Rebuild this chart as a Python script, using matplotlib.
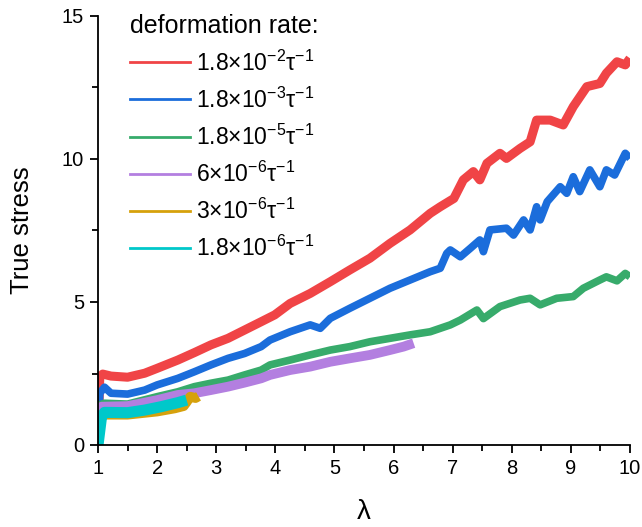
import matplotlib
matplotlib.use("Agg")
import matplotlib.pyplot as plt
from matplotlib.lines import Line2D
from matplotlib.ticker import MultipleLocator

plt.rcParams["font.family"] = ["Liberation Sans", "DejaVu Sans"]
plt.rcParams["mathtext.fontset"] = "custom"
plt.rcParams["mathtext.rm"] = "Liberation Sans"
plt.rcParams["mathtext.it"] = "Liberation Sans:italic"

# ------------------------- DATA --------------------- #
lam_red = [1.0, 1.03, 1.08, 1.22, 1.5, 1.79, 2.0, 2.35, 2.63, 2.91, 3.2, 3.48,
           3.76, 3.99, 4.25, 4.59, 4.93, 5.26, 5.6, 5.94, 6.28, 6.62, 6.79,
           7.02, 7.18, 7.35, 7.46, 7.58, 7.8, 7.91, 8.14, 8.31, 8.42, 8.65,
           8.87, 9.04, 9.27, 9.49, 9.6, 9.78, 9.92, 10.0]
s_red = [0.0, 2.39, 2.48, 2.41, 2.37, 2.51, 2.68, 2.97, 3.23, 3.5, 3.73, 4.02,
         4.31, 4.55, 4.95, 5.3, 5.71, 6.12, 6.53, 7.05, 7.52, 8.1, 8.33,
         8.62, 9.27, 9.56, 9.27, 9.85, 10.2, 10.02, 10.37, 10.6, 11.36, 11.36,
         11.19, 11.83, 12.53, 12.64, 13.0, 13.4, 13.29, 13.52]

lam_blue = [1.0, 1.03, 1.11, 1.22, 1.5, 1.79, 2.0, 2.35, 2.63, 2.91, 3.2, 3.48,
            3.76, 3.91, 4.25, 4.59, 4.76, 4.93, 5.26, 5.6, 5.94, 6.28, 6.62,
            6.79, 6.9, 6.96, 7.13, 7.3, 7.46, 7.52, 7.63, 7.91, 8.03, 8.2,
            8.31, 8.42, 8.48, 8.6, 8.82, 8.93, 9.04, 9.15, 9.32, 9.49, 9.6,
            9.74, 9.92, 10.0]
s_blue = [0.0, 1.81, 2.02, 1.81, 1.78, 1.92, 2.1, 2.33, 2.56, 2.8, 3.03, 3.2,
          3.44, 3.67, 3.96, 4.2, 4.08, 4.43, 4.78, 5.13, 5.48, 5.77, 6.06,
          6.18, 6.7, 6.82, 6.58, 6.88, 7.17, 6.76, 7.52, 7.58, 7.34, 7.87,
          7.52, 8.33, 7.87, 8.51, 9.03, 8.8, 9.38, 8.86, 9.62, 9.03, 9.62,
          9.44, 10.2, 10.02]

lam_green = [1.0, 1.03, 1.11, 1.5, 2.0, 2.35, 2.63, 2.91, 3.2, 3.48, 3.76, 3.91,
             4.25, 4.59, 4.93, 5.26, 5.6, 5.94, 6.28, 6.62, 6.96, 7.13, 7.41,
             7.52, 7.8, 8.14, 8.31, 8.48, 8.76, 9.04, 9.21, 9.49, 9.6, 9.78,
             9.92, 10.0]
s_green = [0.0, 1.4, 1.46, 1.43, 1.69, 1.86, 2.04, 2.16, 2.27, 2.45, 2.62, 2.8,
           2.97, 3.15, 3.32, 3.44, 3.61, 3.73, 3.85, 3.96, 4.2, 4.37, 4.72,
           4.42, 4.84, 5.07, 5.13, 4.9, 5.13, 5.19, 5.48, 5.77, 5.88, 5.74,
           6.0, 5.88]

lam_purple = [1.0, 1.06, 1.5, 2.0, 2.35, 2.63, 2.91, 3.2, 3.48, 3.76, 3.91,
              4.25, 4.59, 4.93, 5.26, 5.6, 5.94, 6.17, 6.34]
s_purple = [0.0, 1.34, 1.36, 1.57, 1.75, 1.81, 1.92, 2.04, 2.18, 2.33, 2.45,
            2.62, 2.74, 2.91, 3.03, 3.15, 3.32, 3.44, 3.56]

lam_gold = [1.0, 1.03, 1.1, 1.5, 2.0, 2.3, 2.45, 2.5, 2.56, 2.65, 2.7]
s_gold = [0.0, 0.95, 1.06, 1.06, 1.17, 1.28, 1.36, 1.5, 1.69, 1.64, 1.7]

lam_cyan = [1.0, 1.06, 1.11, 1.5, 1.79, 2.07, 2.35, 2.5]
s_cyan = [0.0, 0.99, 1.14, 1.13, 1.22, 1.34, 1.48, 1.57]

labels = [r"1.8×10$^{-2}$τ$^{-1}$",
          r"1.8×10$^{-3}$τ$^{-1}$",
          r"1.8×10$^{-5}$τ$^{-1}$",
          r"6×10$^{-6}$τ$^{-1}$",
          r"3×10$^{-6}$τ$^{-1}$",
          r"1.8×10$^{-6}$τ$^{-1}$"]
colors = ["#f04446", "#1b6ddb", "#37ab6b", "#b37fe0", "#d6a10c", "#00c8ca"]
widths = [6.5, 5.5, 5.5, 7.0, 7.0, 8.0]

series = [(lam_red, s_red), (lam_blue, s_blue), (lam_green, s_green),
          (lam_purple, s_purple), (lam_gold, s_gold), (lam_cyan, s_cyan)]

# ------------------------- FIGURE ------------------------------------------ #
fig = plt.figure(figsize=(6.42, 5.27), dpi=100)
ax = fig.add_axes([98 / 642, 1 - 445 / 527, 532 / 642, 429 / 527])

for (x, y), c, w in zip(series, colors, widths):
    ax.plot(x, y, color=c, lw=w, solid_joinstyle="round", solid_capstyle="butt")

ax.set_xlim(1, 10)
ax.set_ylim(0, 15)
ax.xaxis.set_major_locator(MultipleLocator(1))
ax.xaxis.set_minor_locator(MultipleLocator(0.5))
ax.yaxis.set_major_locator(MultipleLocator(5))
ax.yaxis.set_minor_locator(MultipleLocator(2.5))
ax.tick_params(which="major", direction="out", length=6, width=1.3,
               labelsize=14.5, pad=4)
ax.tick_params(which="minor", direction="out", length=4, width=1.3)
for side in ("top", "right"):
    ax.spines[side].set_visible(False)
for side in ("left", "bottom"):
    ax.spines[side].set_linewidth(1.3)

ax.set_xlabel("λ", fontsize=20)
ax.set_ylabel("True stress", fontsize=18.5)
ax.yaxis.set_label_coords(-0.12, 0.5)
ax.xaxis.set_label_coords(0.5, -0.125)

handles = [Line2D([], [], color=c, lw=2) for c in colors]
ax.legend(handles, labels, title="deformation rate:", loc="upper left",
          bbox_to_anchor=(0.06, 1.004), frameon=False, fontsize=16.5,
          title_fontsize=18, handlelength=2.6, handletextpad=0.3,
          labelspacing=0.52, alignment="left", borderaxespad=0, borderpad=0)

fig.savefig("out.png", dpi=100)
